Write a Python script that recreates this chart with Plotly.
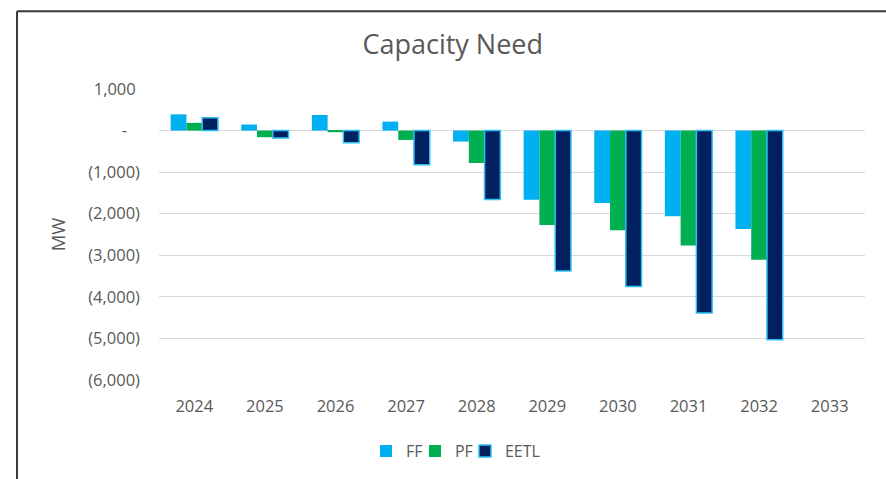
import plotly.graph_objects as go

years = ["2024", "2025", "2026", "2027", "2028", "2029", "2030", "2031", "2032", "2033"]
ff = [390, 145, 375, 215, -265, -1665, -1740, -2060, -2370, None]
pf = [185, -160, -40, -225, -780, -2270, -2395, -2765, -3110, None]
eetl = [310, -180, -295, -820, -1660, -3380, -3750, -4390, -5030, None]

ytick_vals = [1000, 0, -1000, -2000, -3000, -4000, -5000, -6000]
ytick_text = ["1,000\u00a0", "-\u00a0\u00a0\u00a0", "(1,000)", "(2,000)", "(3,000)", "(4,000)", "(5,000)", "(6,000)"]

FONT = "Open Sans"
GREY = "#595959"

fig = go.Figure()
fig.add_trace(go.Bar(name="FF", x=years, y=ff, legend="legend",
                     marker=dict(color="#00B0F0", line=dict(width=0))))
fig.add_trace(go.Bar(name="PF", x=years, y=pf, legend="legend2",
                     marker=dict(color="#00B050", line=dict(width=0))))
fig.add_trace(go.Bar(name="EETL", x=years, y=eetl, legend="legend3",
                     marker=dict(color="#002060", line=dict(color="#2EC0F2", width=1.5))))

leg_common = dict(orientation="h", xanchor="left", y=-0.24, yanchor="middle",
                  font=dict(family=FONT, size=16, color=GREY), itemwidth=30,
                  bgcolor="rgba(0,0,0,0)")

fig.update_layout(
    width=886, height=479,
    margin=dict(l=159, r=21, t=89, b=98),
    paper_bgcolor="white", plot_bgcolor="white",
    barmode="group", bargap=0.33, bargroupgap=0,
    font=dict(family=FONT, color=GREY, size=16),
    title=dict(text="Capacity Need", x=0.511, xanchor="center", y=0.907, yanchor="middle",
               font=dict(family=FONT, size=27, color=GREY)),
    showlegend=True,
    legend=dict(x=0.2932, **leg_common),
    legend2=dict(x=0.3626, **leg_common),
    legend3=dict(x=0.4334, **leg_common),
    xaxis=dict(showgrid=False, showline=False, zeroline=False, ticks="",
               ticklabelstandoff=14, tickfont=dict(size=16.5, color=GREY)),
    yaxis=dict(range=[-6000, 1000], tickvals=ytick_vals, ticktext=ytick_text,
               showgrid=True, gridcolor="#D9D9D9", gridwidth=1.3, zeroline=False,
               showline=False, ticks="", ticklabelstandoff=18,
               tickfont=dict(size=16.5, color=GREY),
               title=dict(text="MW", font=dict(size=18.5, color=GREY), standoff=17)),
    shapes=[
        dict(type="line", xref="paper", yref="paper", x0=-0.2011, x1=-0.2011, y0=-1.0, y1=1.2671,
             line=dict(color="#3A3A3A", width=2)),
        dict(type="line", xref="paper", yref="paper", x0=-0.2011, x1=1.5, y0=1.2671, y1=1.2671,
             line=dict(color="#3A3A3A", width=2)),
    ],
)

fig.write_html("out.html")
